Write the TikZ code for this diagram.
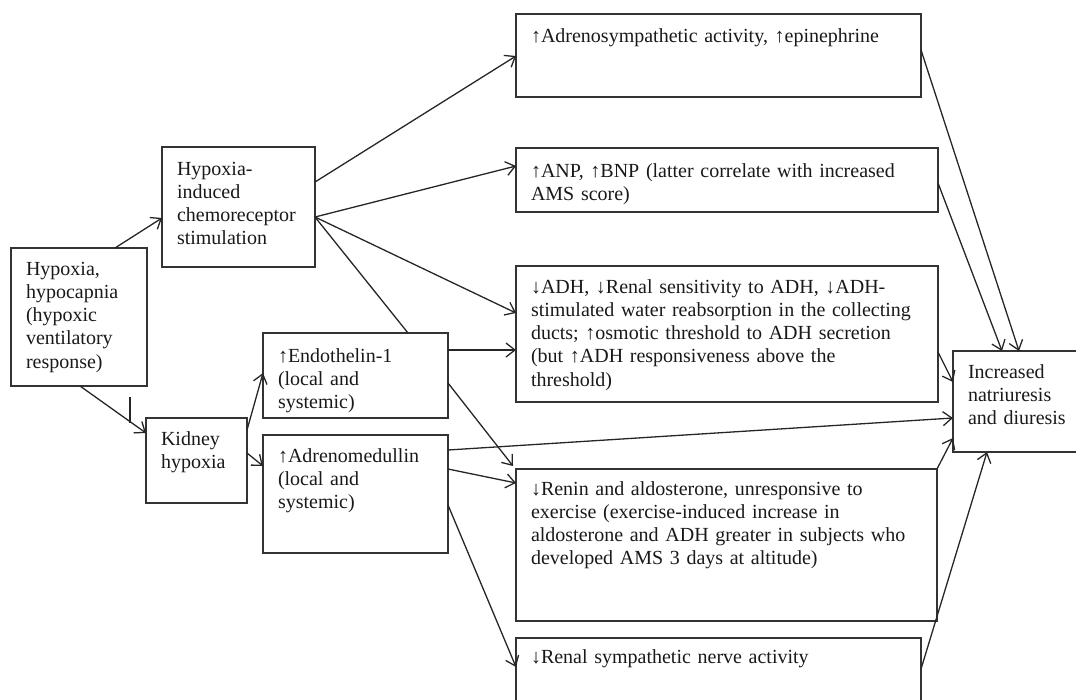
\documentclass[tikz,border=0pt]{standalone}
\usepackage{fontspec}
\setmainfont{Liberation Serif}
\usetikzlibrary{arrows.meta}

\tikzset{
	box/.style={draw=black!80, line width=1.5pt, anchor=north west, outer sep=0pt,
		align=left, inner xsep=15pt, inner ysep=0pt, text height=27pt, text=black!90,
		font=\fontsize{20}{23.3}\selectfont},
	arr/.style={draw=black!85, line width=1.3pt, -{Straight Barb[length=9pt,width=14pt]}},
	link/.style={draw=black!85, line width=1.3pt},
}

\begin{document}
\begin{tikzpicture}[x=1pt, y=-1pt]
	\useasboundingbox (0,0) rectangle (1076,699);
	% left column
	\node[box, text width=106pt, text depth=111pt] (hyp) at (11,248) {Hypoxia,\\hypocapnia\\(hypoxic\\ventilatory\\response)};
	\node[box, text width=123pt, text height=28pt, text depth=92pt] (chemo) at (162,147) {Hypoxia-\\induced\\chemoreceptor\\stimulation};
	\node[box, text width=71pt, text depth=58pt] (kidney) at (146,418) {Kidney\\hypoxia};
	\node[box, text width=155pt, text height=29pt, text depth=56pt] (endo) at (263,333) {↑Endothelin-1\\(local and\\systemic)};
	\node[box, text width=155pt, text depth=91pt] (adm) at (263,435) {↑Adrenomedullin\\(local and\\systemic)};
	% effects
	\node[box, text width=375pt, text height=28pt, text depth=55pt] (adreno) at (516,14) {↑Adrenosympathetic activity, ↑epinephrine};
	\node[box, text width=392pt, text height=29pt, text depth=35pt] (anp) at (516,148) {↑ANP, ↑BNP (latter correlate with increased\\AMS score)};
	\node[box, text width=392pt, text depth=109pt] (adh) at (516,266) {↓ADH, ↓Renal sensitivity to ADH, ↓ADH-\\stimulated water reabsorption in the collecting\\ducts; ↑osmotic threshold to ADH secretion\\(but ↑ADH responsiveness above the\\threshold)};
	\node[box, text width=391pt, text height=26pt, text depth=126pt] (renin) at (516,469) {↓Renin and aldosterone, unresponsive to\\exercise (exercise-induced increase in\\aldosterone and ADH greater in subjects who\\developed AMS 3 days at altitude)};
	\node[box, text width=375pt, text height=25pt, text depth=90pt] (rsna) at (516,638) {↓Renal sympathetic nerve activity};
	\node[box, text width=130pt, text depth=74pt] (natri) at (953,351) {Increased\\natriuresis\\and diuresis};
	% connectors
	\draw[arr] ([xshift=104pt]hyp.north west) -- ([yshift=-71pt]chemo.north west);
	\draw[arr] ([xshift=69pt]hyp.south west) -- ([yshift=-15pt]kidney.north west);
	\coordinate (tick) at ([shift={(-16pt,21pt)}]kidney.north west); %stray stroke over the arrow head
	\draw[link] (tick) -- ([shift={(-16pt,-5pt)}]kidney.north west);
	\draw[arr] ([yshift=-12pt]kidney.north east) -- ([yshift=-40pt]endo.north west);
	\draw[arr] ([yshift=-35pt]kidney.north east) -- ([yshift=-31pt]adm.north west);
	\draw[arr] ([yshift=-35pt]chemo.north east) -- ([yshift=-42pt]adreno.north west);
	\draw[arr] ([yshift=-70pt]chemo.north east) -- ([yshift=-18pt]anp.north west);
	\draw[arr] ([yshift=-70pt]chemo.north east) -- ([yshift=-47pt]adh.north west);
	\draw[link] ([yshift=-70pt]chemo.north east) -- ([xshift=145pt]endo.north west);
	\draw[arr] ([yshift=-17pt]endo.north east) -- ([yshift=-84pt]adh.north west);
	\draw[arr] ([yshift=-50pt]endo.north east) -- ([shift={(-3pt,3pt)}]renin.north west);
	\draw[arr] ([yshift=-15pt]adm.north east) -- ([yshift=-67pt]natri.north west);
	\draw[arr] ([yshift=-34pt]adm.north east) -- ([yshift=-14pt]renin.north west);
	\draw[arr] ([yshift=-70pt]adm.north east) -- ([yshift=-29pt]rsna.north west);
	\draw[arr] ([yshift=-36pt]adreno.north east) -- ([xshift=66pt]natri.north west);
	\draw[arr] ([yshift=-35pt]anp.north east) -- ([xshift=49pt]natri.north west);
	\draw[arr] ([yshift=-86pt]adh.north east) -- ([yshift=-31pt]natri.north west);
	\draw[arr] (renin.north east) -- ([yshift=14pt]natri.south west);
	\draw[arr] ([yshift=-31pt]rsna.north east) -- ([xshift=34pt]natri.south west);
\end{tikzpicture}
\end{document}
